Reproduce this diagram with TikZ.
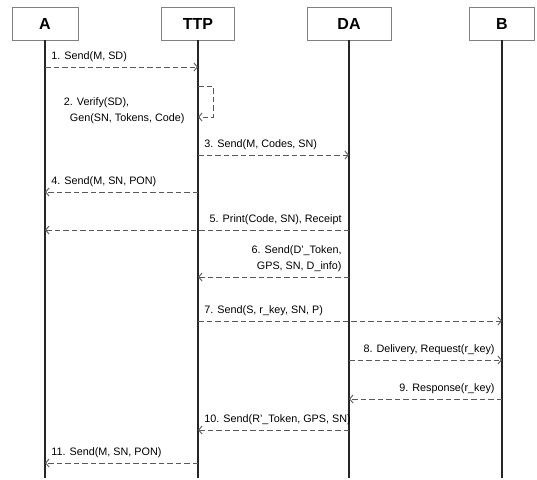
\documentclass[tikz,border=0pt]{standalone}
\usepackage{fontspec}
\setmainfont{Liberation Sans}
\usetikzlibrary{arrows.meta}

\begin{document}
\begin{tikzpicture}[x=1pt,y=-1pt,
    actor/.style={draw=black!50,line width=.7pt,fill=white,minimum width=#1,
      minimum height=33pt,inner sep=0pt,font=\fontsize{16}{18}\selectfont\bfseries},
    life/.style={line width=1.2pt,black!85},
    msg/.style={draw=black!65,line width=.9pt,dash pattern=on 5.5pt off 3pt,
      -{Straight Barb[length=3.5pt,width=8pt]}},
    lbl/.style={inner sep=1pt,yshift=4pt,font=\fontsize{10.8}{15.5}\selectfont},
    lw/.style={lbl,anchor=south west,xshift=5pt,align=left},
    le/.style={lbl,anchor=south east,xshift=-6pt,align=right}]
  \useasboundingbox (0,0) rectangle (537,479);

  \node[actor=66pt] (A) at (45,23.5) {A};
  \node[actor=73pt] (TTP) at (198,23.5) {TTP};
  \node[actor=84pt] (DA) at (349,23.5) {DA};
  \node[actor=65pt] (B) at (502,23.5) {B};

  \foreach \n in {A,TTP,DA,B}
    \draw[life] (\n.south) -- (\n |- 0,478);

  % heights of the messages
  \foreach \i/\y in {1/67,2/86,2b/117,3/155,4/192,5/230,6/277,7/321,8/360,9/399,10/430,11/463}
    \foreach \n in {A,TTP,DA,B}
      \coordinate (\n-\i) at (\n |- 0,\y);

  \draw[msg] (A-1) -- node[lw,pos=0]{1. Send(M, SD)} (TTP-1);
  \draw[msg] (TTP-2) -- ++(15,0) |- node[lbl,pos=1,anchor=south east,align=left,xshift=-12pt,yshift=-12pt]
    {2. Verify(SD),\\\hspace{6pt}Gen(SN, Tokens, Code)} (TTP-2b);
  \draw[msg] (TTP-3) -- node[lw,pos=0]{3. Send(M, Codes, SN)} (DA-3);
  \draw[msg] (TTP-4) -- node[lw,pos=1]{4. Send(M, SN, PON)} (A-4);
  \draw[msg] (DA-5) -- node[le,pos=0]{5. Print(Code, SN), Receipt} (A-5);
  \draw[msg] (DA-6) -- node[le,pos=0]{6. Send(D'\_Token,\\GPS, SN, D\_info)} (TTP-6);
  \draw[msg] (TTP-7) -- node[lw,pos=0]{7. Send(S, r\_key, SN, P)} (B-7);
  \draw[msg] (DA-8) -- node[le,pos=1]{8. Delivery, Request(r\_key)} (B-8);
  \draw[msg] (B-9) -- node[le,pos=0]{9. Response(r\_key)} (DA-9);
  \draw[msg] (DA-10) -- node[lw,pos=1]{10. Send(R'\_Token, GPS, SN)} (TTP-10);
  \draw[msg] (TTP-11) -- node[lw,pos=1]{11. Send(M, SN, PON)} (A-11);
\end{tikzpicture}
\end{document}
